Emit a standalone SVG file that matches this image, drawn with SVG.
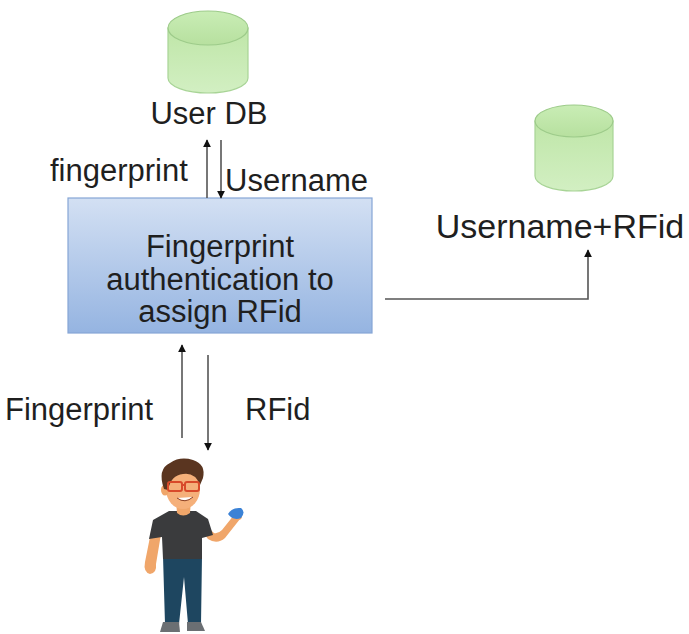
<svg xmlns="http://www.w3.org/2000/svg" width="689" height="634" viewBox="0 0 689 634">
  <defs>
    <linearGradient id="dbBody" x1="0" y1="0" x2="0" y2="1">
      <stop offset="0" stop-color="#bfe6a8"/>
      <stop offset="1" stop-color="#d2efc2"/>
    </linearGradient>
    <linearGradient id="dbTop" x1="0" y1="0" x2="0" y2="1">
      <stop offset="0" stop-color="#c9edb5"/>
      <stop offset="1" stop-color="#b7e09f"/>
    </linearGradient>
    <linearGradient id="boxFill" x1="0" y1="0" x2="0" y2="1">
      <stop offset="0" stop-color="#d3e0f3"/>
      <stop offset="1" stop-color="#95b4e1"/>
    </linearGradient>
    <marker id="arrow" viewBox="0 0 10 10" refX="9" refY="5" markerWidth="5" markerHeight="5" orient="auto-start-reverse">
      <path d="M0,0 L10,5 L0,10 z" fill="#111"/>
    </marker>
  </defs>
  <style>
    .lbl { font-family: "Liberation Sans", Arial, sans-serif; fill: #1f1f1f; font-size: 31px; }
    .db-body { fill: url(#dbBody); stroke: #a8d496; stroke-width: 1.2; }
    .db-top { fill: url(#dbTop); stroke: #9dcb8a; stroke-width: 1.2; }
    .conn { stroke: #555; stroke-width: 1.6; fill: none; }
    .skin { fill: #f0a66a; }
  </style>

  <rect width="689" height="634" fill="#ffffff"/>

  <!-- User database -->
  <g id="user-db">
    <path class="db-body" d="M168,28 L168,78 A40,15 0 0 0 248,78 L248,28 Z"/>
    <ellipse class="db-top" cx="208" cy="28" rx="40" ry="17"/>
    <text class="lbl" x="209" y="124" text-anchor="middle">User DB</text>
  </g>

  <!-- Username + RFid store -->
  <g id="rfid-db">
    <path class="db-body" d="M535,121 L535,176 A39,15 0 0 0 613,176 L613,121 Z"/>
    <ellipse class="db-top" cx="574" cy="121" rx="39" ry="16"/>
    <text class="lbl" x="560" y="238" style="font-size:34px" text-anchor="middle">Username+RFid</text>
  </g>

  <!-- Authentication process -->
  <g id="auth-box">
    <rect x="68" y="198" width="304" height="135" fill="url(#boxFill)" stroke="#86a6d6" stroke-width="1.2"/>
    <text class="lbl" x="220" y="257" text-anchor="middle">Fingerprint</text>
    <text class="lbl" x="220" y="290" text-anchor="middle">authentication to</text>
    <text class="lbl" x="220" y="322" text-anchor="middle">assign RFid</text>
  </g>

  <!-- Connectors -->
  <g id="connectors">
    <line class="conn" x1="207" y1="198" x2="207" y2="140" marker-end="url(#arrow)"/>
    <line class="conn" x1="221" y1="140" x2="221" y2="198" marker-end="url(#arrow)"/>
    <polyline class="conn" points="385,299 588,299 588,250" marker-end="url(#arrow)"/>
    <line class="conn" x1="182" y1="438" x2="182" y2="345" marker-end="url(#arrow)"/>
    <line class="conn" x1="208" y1="355" x2="208" y2="450" marker-end="url(#arrow)"/>
  </g>

  <!-- Connector labels -->
  <g id="labels">
    <text class="lbl" x="50" y="181">fingerprint</text>
    <text class="lbl" x="225" y="191">Username</text>
    <text class="lbl" x="5" y="420">Fingerprint</text>
    <text class="lbl" x="245" y="420">RFid</text>
  </g>

  <!-- User -->
  <g id="user">
    <!-- legs -->
    <path d="M163,556 L202,556 L201,624 L188,624 L184,577 L179,624 L165,624 Z" fill="#1e4660"/>
    <!-- shoes -->
    <path d="M163,622 L179,622 L180,632 L160,632 Z" fill="#6b6f73"/>
    <path d="M187,622 L201,622 L205,631 L187,631 Z" fill="#6b6f73"/>
    <!-- left arm -->
    <path d="M151,532 L145,562 Q143,572 150,574 Q157,573 156,564 L161,534 Z" class="skin"/>
    <!-- right arm -->
    <path d="M203,523 L214,533 Q218,534 222,530 L234,515 L240,519 L225,538 Q217,545 208,539 L201,530 Z" class="skin"/>
    <!-- shirt -->
    <path d="M169,511 L196,511 L208,519 L213,535 L202,538 L202,559 L163,559 L162,537 L149,539 L153,520 Z" fill="#3a3b3d"/>
    <!-- neck -->
    <path d="M176,500 L191,500 L190,513 Q183,518 177,513 Z" class="skin"/>
    <!-- head -->
    <ellipse cx="183" cy="489" rx="17" ry="20" fill="#f5b07a"/>
    <ellipse cx="165" cy="490" rx="4" ry="5.5" class="skin"/>
    <!-- hair -->
    <path d="M164,489 Q157,469 170,463 Q180,456 193,460 Q206,464 203,478 L200,485 Q195,472 183,474 Q171,475 168,490 Z" fill="#5a3520"/>
    <!-- glasses -->
    <rect x="168" y="482" width="14" height="9" rx="2" fill="none" stroke="#d84a2a" stroke-width="2"/>
    <rect x="185" y="482" width="14" height="9" rx="2" fill="none" stroke="#d84a2a" stroke-width="2"/>
    <line x1="182" y1="485" x2="185" y2="485" stroke="#d84a2a" stroke-width="2"/>
    <!-- smile -->
    <path d="M177,498 Q185,504 193,497" fill="#ffffff" stroke="#8a3d1e" stroke-width="1"/>
    <!-- hand and phone -->
    <ellipse cx="238" cy="516" rx="4" ry="4" class="skin"/>
    <path d="M228,514 Q232,507 241,508 Q246,512 241,518 Q233,521 228,514 Z" fill="#3b82d6"/>
  </g>
</svg>
